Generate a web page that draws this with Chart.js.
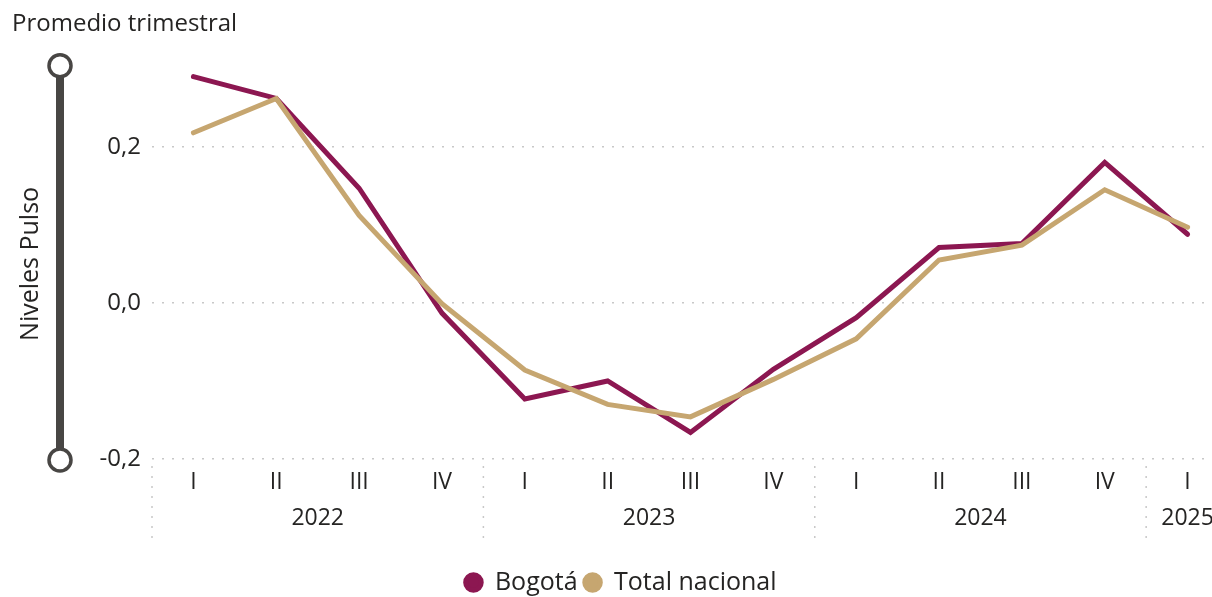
<!DOCTYPE html>
<html lang="es">
<head>
<meta charset="UTF-8">
<title>Promedio trimestral</title>
<script src="https://cdn.jsdelivr.net/npm/chart.js@4/dist/chart.umd.min.js"></script>
<style>
  body { margin: 0; overflow: hidden; background: #fff; }
  #wrap { width: 1229px; height: 597px; }
</style>
</head>
<body>
<div id="wrap"><canvas id="chart" width="1229" height="597"></canvas></div>
<script>
const quarters = ['I', 'II', 'III', 'IV', 'I', 'II', 'III', 'IV', 'I', 'II', 'III', 'IV', 'I'];
const years = ['2022', '2022', '2022', '2022', '2023', '2023', '2023', '2023', '2024', '2024', '2024', '2024', '2025'];
const bogota = [0.290, 0.262, 0.147, -0.013, -0.123, -0.100, -0.166, -0.085, -0.019, 0.071, 0.076, 0.180, 0.088];
const totalNacional = [0.218, 0.262, 0.112, -0.001, -0.086, -0.130, -0.146, -0.098, -0.046, 0.055, 0.074, 0.145, 0.097];
const yTicks = [-0.2, 0, 0.2];

const textColor = '#252423';
const font = 'Open Sans, Noto Sans, sans-serif';

// slider on the left side + year groups under the quarters
const extras = {
  id: 'extras',
  afterDraw(chart) {
    const ctx = chart.ctx;
    const area = chart.chartArea;
    const x = chart.scales.x;
    ctx.save();

    // slider
    const sx = 60, top = area.top - 3, bot = area.bottom + 1;
    ctx.strokeStyle = '#484644';
    ctx.lineWidth = 8;
    ctx.beginPath();
    ctx.moveTo(sx, top);
    ctx.lineTo(sx, bot);
    ctx.stroke();
    ctx.lineWidth = 3.5;
    ctx.fillStyle = '#fff';
    [top, bot].forEach(cy => {
      ctx.beginPath();
      ctx.arc(sx, cy, 11, 0, Math.PI * 2);
      ctx.fill();
      ctx.stroke();
    });

    // year groups
    const half = (x.getPixelForValue(1) - x.getPixelForValue(0)) / 2;
    ctx.strokeStyle = '#c8c8c8';
    ctx.lineWidth = 1.5;
    ctx.setLineDash([2, 8]);
    ctx.font = '23px ' + font;
    ctx.textAlign = 'center';
    ctx.textBaseline = 'middle';
    let start = 0;
    for (let i = 1; i <= years.length; i++) {
      if (i === years.length || years[i] !== years[start]) {
        const left = x.getPixelForValue(start) - half;
        ctx.beginPath();
        ctx.moveTo(left, area.bottom + 7);
        ctx.lineTo(left, area.bottom + 79);
        ctx.stroke();
        const mid = (x.getPixelForValue(start) + x.getPixelForValue(i - 1)) / 2;
        ctx.fillStyle = textColor;
        ctx.fillText(years[start], mid, area.bottom + 59);
        start = i;
      }
    }
    ctx.restore();
  }
};

new Chart(document.getElementById('chart'), {
  type: 'line',
  data: {
    labels: quarters,
    datasets: [
      {
        label: 'Bogotá',
        data: bogota,
        borderColor: '#8c1751',
        backgroundColor: '#8c1751',
        borderWidth: 5,
        pointRadius: 0,
        borderCapStyle: 'round',
        tension: 0,
        order: 1
      },
      {
        label: 'Total nacional',
        data: totalNacional,
        borderColor: '#c6a670',
        backgroundColor: '#c6a670',
        borderWidth: 5,
        pointRadius: 0,
        borderCapStyle: 'round',
        tension: 0,
        order: 0
      }
    ]
  },
  options: {
    responsive: false,
    animation: false,
    layout: { padding: { left: 12, right: 0, top: 0, bottom: -8 } },
    plugins: {
      title: {
        display: true,
        text: 'Promedio trimestral',
        align: 'start',
        color: textColor,
        font: { family: font, size: 24, weight: 'normal' },
        padding: { top: 10, bottom: 30 }
      },
      legend: {
        position: 'bottom',
        labels: {
          usePointStyle: true,
          pointStyle: 'circle',
          boxWidth: 18,
          boxHeight: 11,
          padding: 6,
          color: textColor,
          font: { family: font, size: 25 },
          sort: (a, b) => a.datasetIndex - b.datasetIndex
        }
      },
      tooltip: { enabled: false }
    },
    scales: {
      x: {
        offset: true,
        grid: { display: false, drawTicks: false },
        border: { display: false },
        ticks: {
          color: textColor,
          padding: 10,
          maxRotation: 0,
          autoSkip: false,
          font: { family: font, size: 23 }
        },
        afterFit(scale) { scale.height = 105; }
      },
      y: {
        min: -0.2,
        max: 0.3,
        grid: {
          color: '#c8c8c8',
          lineWidth: 1.5,
          drawTicks: false
        },
        border: { display: false, dash: [2, 8] },
        ticks: {
          color: textColor,
          padding: 11,
          font: { family: font, size: 24 },
          callback: v => v.toFixed(1).replace('.', ',')
        },
        afterBuildTicks(scale) {
          scale.ticks = yTicks.map(v => ({ value: v }));
        },
        afterFit(scale) { scale.width = 140; },
        title: {
          display: true,
          text: 'Niveles Pulso',
          color: textColor,
          font: { family: font, size: 25 },
          padding: { top: 4, bottom: 0 }
        }
      }
    }
  },
  plugins: [extras]
});
</script>
</body>
</html>
